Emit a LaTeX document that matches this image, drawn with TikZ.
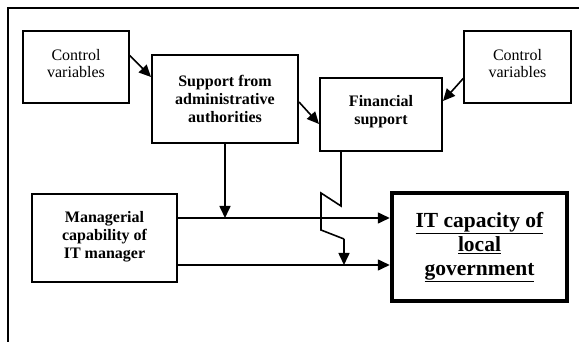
\documentclass[tikz,border=0pt]{standalone}
\usepackage{fontspec}
\setmainfont{Liberation Serif}
\usetikzlibrary{arrows.meta,calc}
\begin{document}
\begin{tikzpicture}[x=1pt,y=-1pt,
  box/.style={draw, line width=1.3pt, inner sep=0pt, align=center, font=\fontsize{16}{17}\selectfont},
  bbox/.style={draw, line width=2pt, inner sep=0pt, align=center, font=\fontsize{16}{18}\selectfont\bfseries},
  itbox/.style={draw, line width=4.5pt, inner sep=0pt, align=center, font=\fontsize{21.5}{24}\selectfont\bfseries},
  conn/.style={line width=1.6pt, -{Triangle[length=12pt,width=11pt]}},
  plain/.style={line width=1.6pt}]
\useasboundingbox (0,0) rectangle (579,342);
\coordinate (fa) at (8,342);
\coordinate (fb) at (8,8);
\coordinate (fc) at (579,8);
\draw[line width=1.5pt] (fa) -- (fb) -- (fc);

\node[box, minimum width=106pt, minimum height=72pt] (cv1) at (76,67) {Control\\variables\\[-9pt]};
\node[box, minimum width=107pt, minimum height=72pt] (cv2) at (517.5,67) {Control\\variables\\[-9pt]};
\node[bbox, minimum width=146pt, minimum height=88pt] (sup) at (225,99) {Support from\\administrative\\authorities};
\node[bbox, minimum width=122pt, minimum height=73pt] (fin) at (381,114.5) {Financial\\support\\[-8pt]};
\node[bbox, minimum width=145pt, minimum height=88pt] (man) at (104.5,238) {Managerial\\capability of\\IT manager\\[-12pt]};
\node[itbox, minimum width=175pt, minimum height=108pt] (it) at (479.5,247) {\underline{IT capacity of}\\\underline{local}\\\underline{government}};

\draw[conn] ($(cv1.north east)+(0,25)$) -- ($(sup.north west)+(0,23)$);
\draw[conn] ($(sup.north east)+(0,48)$) -- ($(fin.north west)+(0,47)$);
\draw[conn] ($(cv2.north west)+(0,48)$) -- ($(fin.north east)+(0,24)$);

\coordinate (j1) at (225,218);
\draw[conn] (sup.south) -- (j1);
\draw[conn] ($(man.east)+(0,-20)$) -- ($(it.west)+(0,-29)$);
\draw[conn] ($(man.east)+(0,27)$) -- ($(it.west)+(0,18)$);

\coordinate (z1) at (341,206);
\coordinate (z2) at (321,193);
\coordinate (z3) at (321,230);
\coordinate (z4) at (344,239);
\coordinate (z5) at (344,265);
\draw[plain] (fin.south -| z1) -- (z1) -- (z2) -- (z3) -- (z4);
\draw[conn] (z4) -- (z5);
\end{tikzpicture}
\end{document}
